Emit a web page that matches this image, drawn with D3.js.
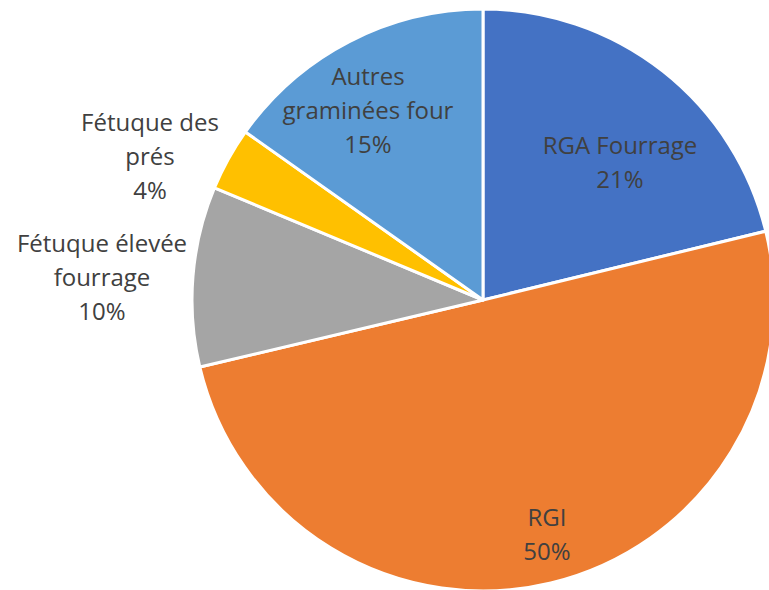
<!DOCTYPE html>
<html>
<head>
<meta charset="utf-8">
<script src="https://cdn.jsdelivr.net/npm/d3@7"></script>
<style>
  body { margin: 0; background: #fff; }
  svg text { font-family: "Open Sans", sans-serif; font-size: 24px; fill: #404040; }
</style>
</head>
<body>
<svg id="pie" width="769" height="590"></svg>
<script>
// slices, clockwise from 12 o'clock
const names = ['RGA Fourrage', 'RGI', 'Fétuque élevée fourrage', 'Fétuque des prés', 'Autres graminées four'];
const values = [21.2, 50.1, 10.0, 3.5, 15.2];
const labels = ['21%', '50%', '10%', '4%', '15%'];
const colors = ['#4472C4', '#ED7D31', '#A5A5A5', '#FFC000', '#5B9BD5'];
// label lines, as the chart wraps them
const labelLines = [
    ['RGA Fourrage'],
    ['RGI'],
    ['Fétuque élevée', 'fourrage'],
    ['Fétuque des', 'prés'],
    ['Autres', 'graminées four']
];
// label anchor points (center of text block)
const labelPos = [[620, 163], [547, 535], [102, 278], [150, 157], [368, 111]];

const width = 769, height = 590;
const cx = 483, cy = 300, radius = 291;

const svg = d3.select('#pie');
const data = names.map((n, i) => ({ name: n, value: values[i], label: labels[i], color: colors[i], lines: labelLines[i], pos: labelPos[i] }));

const pie = d3.pie().sort(null).value(d => d.value);
const arc = d3.arc().innerRadius(0).outerRadius(radius);

const g = svg.append('g').attr('transform', `translate(${cx}, ${cy})`);

g.selectAll('path')
    .data(pie(data))
    .enter().append('path')
    .attr('d', arc)
    .attr('fill', d => d.data.color)
    .attr('stroke', '#fff')
    .attr('stroke-width', 3)
    .attr('stroke-linejoin', 'round');

const lineH = 34;
const label = svg.selectAll('text.lbl')
    .data(data)
    .enter().append('text')
    .attr('class', 'lbl')
    .attr('text-anchor', 'middle');

label.each(function (d) {
    const all = d.lines.concat([d.label]);
    const y0 = d.pos[1] - (all.length - 1) * lineH / 2;
    all.forEach((t, i) => {
        d3.select(this).append('tspan')
            .attr('x', d.pos[0])
            .attr('y', y0 + i * lineH)
            .attr('dy', '0.35em')
            .text(t);
    });
});
</script>
</body>
</html>
